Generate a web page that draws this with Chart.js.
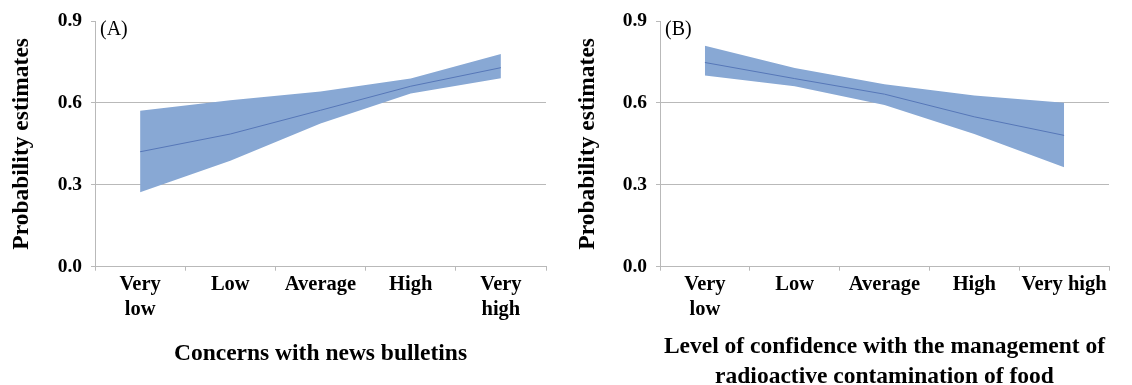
<!DOCTYPE html>
<html>
<head>
<meta charset="utf-8">
<title>Probability estimates</title>
<script src="https://cdn.jsdelivr.net/npm/chart.js@4.4.1/dist/chart.umd.min.js"></script>
<style>
  html, body { margin: 0; padding: 0; background: #fff; overflow: hidden; }
  #wrap { position: relative; width: 1132px; height: 385px; }
  .panel { position: absolute; top: 0; width: 566px; height: 385px; }
  #panelA { left: 0; }
  #panelB { left: 566px; }
</style>
</head>
<body>
<div id="wrap">
  <div class="panel" id="panelA"><canvas id="chartA"></canvas></div>
  <div class="panel" id="panelB"><canvas id="chartB"></canvas></div>
</div>
<script>
// Categories
const categoriesA = [["Very", "low"], "Low", "Average", "High", ["Very", "high"]];
const categoriesB = [["Very", "low"], "Low", "Average", "High", "Very high"];

// Panel A: concerns with news bulletins
const estimateA = [0.421, 0.486, 0.573, 0.661, 0.729];
const upperA    = [0.571, 0.610, 0.642, 0.689, 0.779];
const lowerA    = [0.273, 0.388, 0.525, 0.634, 0.690];

// Panel B: confidence with management of radioactive contamination of food
const estimateB = [0.748, 0.689, 0.632, 0.549, 0.481];
const upperB    = [0.809, 0.728, 0.668, 0.627, 0.601];
const lowerB    = [0.700, 0.661, 0.592, 0.486, 0.364];

// Axis values
const yTicks = [0.0, 0.3, 0.6, 0.9];

const titleA = "Concerns with news bulletins";
const titleB = ["Level of confidence with the management of", "radioactive contamination of food"];
const yTitle = "Probability estimates";

const SERIF = "'Liberation Serif', 'Times New Roman', serif";
const BAND = "#88a8d4";
const LINE = "#5677b8";
const GRID = "#b9b9b9";

// Panel letter in the upper-left corner of the plot area
const panelTag = {
  id: 'panelTag',
  afterDraw(chart, args, opts) {
    const ctx = chart.ctx;
    ctx.save();
    ctx.font = "20px " + SERIF;
    ctx.fillStyle = "#000";
    ctx.textAlign = "left";
    ctx.textBaseline = "middle";
    ctx.fillText(opts.text, chart.chartArea.left + 5, chart.chartArea.top + 9);
    ctx.restore();
  }
};

function buildChart(id, cats, est, up, lo, xTitle, yAxisWidth, padRight, tag, xTitlePad) {
  return new Chart(document.getElementById(id), {
    type: 'line',
    data: {
      labels: cats,
      datasets: [
        // confidence band: upper edge filled down to the lower edge
        { data: up, fill: '+1', backgroundColor: BAND, borderWidth: 0, borderColor: BAND, pointRadius: 0, tension: 0, order: 2 },
        { data: lo, fill: false, borderWidth: 0, borderColor: BAND, pointRadius: 0, tension: 0, order: 2 },
        // point estimate on top of the band
        { data: est, fill: false, borderWidth: 1, borderColor: LINE, pointRadius: 0, tension: 0, order: 1 }
      ]
    },
    options: {
      responsive: true,
      maintainAspectRatio: false,
      animation: false,
      layout: { padding: { top: 21, right: padRight, bottom: 0, left: 0 } },
      plugins: {
        legend: { display: false },
        tooltip: { enabled: false },
        panelTag: { text: tag }
      },
      scales: {
        x: {
          type: 'category',
          offset: true,
          grid: { offset: true, drawOnChartArea: false, tickLength: 4, color: GRID },
          border: { color: GRID, width: 1 },
          ticks: {
            color: "#000",
            padding: 2,
            maxRotation: 0,
            autoSkip: false,
            font: { family: SERIF, size: 20.5, weight: 'bold', lineHeight: 1.2 }
          },
          title: {
            display: true,
            text: xTitle,
            color: "#000",
            font: { family: SERIF, size: 23.5, weight: 'bold', lineHeight: 1.277 },
            padding: { top: 0, bottom: xTitlePad }
          },
          afterFit(scale) { scale.height = 118.3; }
        },
        y: {
          min: 0,
          max: 0.9,
          afterBuildTicks(scale) { scale.ticks = yTicks.map(v => ({ value: v })); },
          grid: {
            color: (c) => (c.tick && (c.tick.value === 0.3 || c.tick.value === 0.6)) ? GRID : 'rgba(0,0,0,0)',
            tickColor: GRID,
            tickLength: 4,
            drawTicks: true
          },
          border: { color: GRID, width: 1 },
          ticks: {
            color: "#000",
            padding: 9,
            font: { family: SERIF, size: 19.5, weight: 'bold' },
            callback: (v) => Number(v).toFixed(1)
          },
          title: {
            display: true,
            text: yTitle,
            color: "#000",
            font: { family: SERIF, size: 23.5, weight: 'bold', lineHeight: 1.2 },
            padding: { top: 8, bottom: 0 }
          },
          afterFit(scale) { scale.width = yAxisWidth; }
        }
      }
    },
    plugins: [panelTag]
  });
}

buildChart('chartA', categoriesA, estimateA, upperA, lowerA, titleA, 95, 20, "(A)", 16);
buildChart('chartB', categoriesB, estimateB, upperB, lowerB, titleB, 94, 23, "(B)", -7);
</script>
</body>
</html>
